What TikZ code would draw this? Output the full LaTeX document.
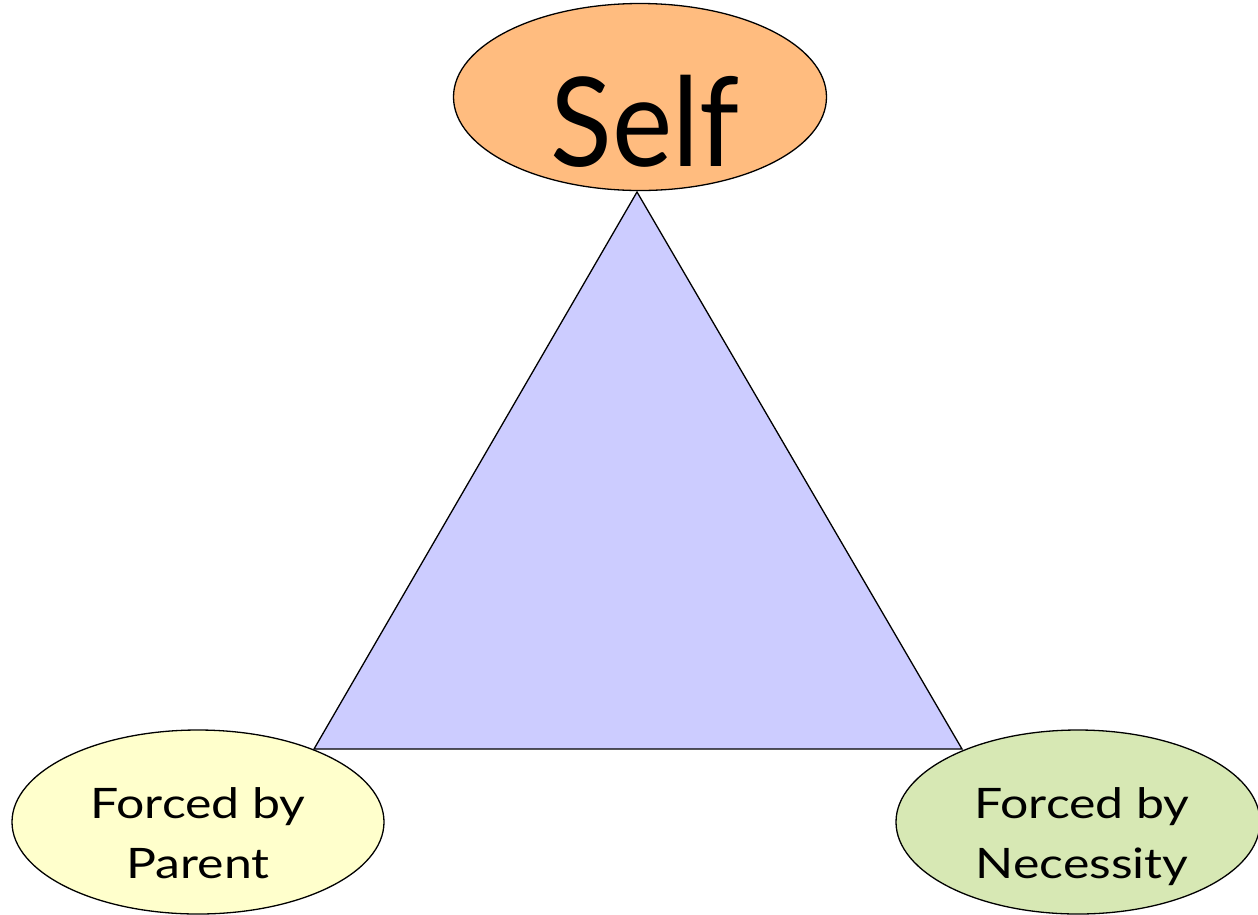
\documentclass[tikz,border=0pt]{standalone}
\usepackage{fontspec}
\setmainfont{Lato}
\usetikzlibrary{shapes.geometric}
\definecolor{selfc}{RGB}{255,188,127}
\definecolor{parentc}{RGB}{255,255,204}
\definecolor{necc}{RGB}{215,232,180}
\definecolor{tric}{RGB}{204,204,255}
\newcommand{\wide}[1]{\scalebox{1.19}[1]{#1}}
\begin{document}
\begin{tikzpicture}[x=1pt,y=-1pt,
  blob/.style={ellipse,draw=black,line width=1.3pt,inner sep=0pt},
  lbl/.style={align=center,font=\fontsize{42}{60}\selectfont}]
\useasboundingbox (0,0) rectangle (1258,914);
\coordinate (apex) at (637,192);
\coordinate (bl) at (314,749);
\coordinate (br) at (962,749);
\draw[fill=tric,line width=1.3pt,line join=miter] (apex) -- (bl) -- (br) -- cycle;
\node[blob,fill=selfc,minimum width=373pt,minimum height=187pt] (self) at (640,97) {};
\node[blob,fill=parentc,minimum width=372pt,minimum height=184pt] (parent) at (198,822) {};
\node[blob,fill=necc,minimum width=364pt,minimum height=184pt] (nec) at (1078,822) {};
\node[anchor=base,font=\fontsize{124}{124}\selectfont] (selft) at (645,166) {\scalebox{0.92}[1]{Self}};
\node[lbl,anchor=base] (pt1) at (198,818) {\wide{Forced by}};
\node[lbl,anchor=base] (pt2) at (198,878) {\wide{Parent}};
\node[lbl,anchor=base] (nt1) at (1082,818) {\wide{Forced by}};
\node[lbl,anchor=base] (nt2) at (1082,878) {\wide{Necessity}};
\end{tikzpicture}
\end{document}
